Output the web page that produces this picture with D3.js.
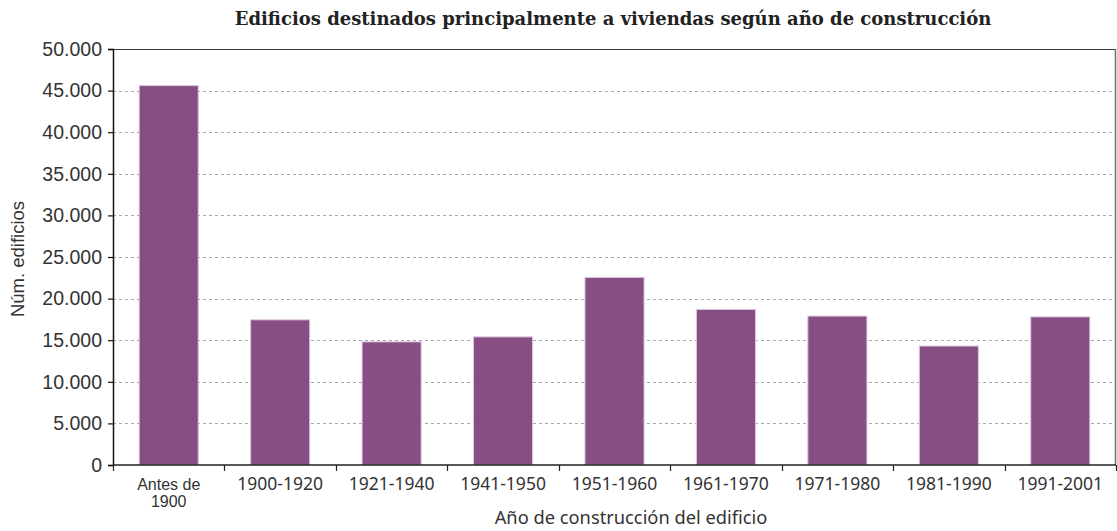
<!DOCTYPE html>
<html>
<head>
<meta charset="utf-8">
<script src="https://cdn.jsdelivr.net/npm/d3@7"></script>
<style>
  html, body { margin: 0; padding: 0; background: #fff; }
  svg { display: block; }
</style>
</head>
<body>
<svg id="chart" width="1117" height="531"></svg>
<script>
// Buildings mainly used as dwellings, by construction period
const categories = ["Antes de\n1900", "1900-1920", "1921-1940", "1941-1950", "1951-1960",
                    "1961-1970", "1971-1980", "1981-1990", "1991-2001"];
const buildings = [45600, 17450, 14800, 15400, 22550, 18700, 17900, 14300, 17800];
const yTicks = [0, 5000, 10000, 15000, 20000, 25000, 30000, 35000, 40000, 45000, 50000];

const titleText = "Edificios destinados principalmente a viviendas según año de construcción";
const yTitle = "Núm. edificios";
const xTitle = "Año de construcción del edificio";

const W = 1117, H = 531;
const m = { top: 49, right: 1, bottom: 66, left: 113 };
const iw = W - m.left - m.right, ih = H - m.top - m.bottom;

const svg = d3.select("#chart");
const g = svg.append("g").attr("transform", `translate(${m.left},${m.top})`);

const x = d3.scaleBand().domain(categories).range([0, iw]).paddingInner(0.47).paddingOuter(0.235);
const y = d3.scaleLinear().domain([0, 50000]).range([ih, 0]);
const fmt = v => d3.format(",")(v).replace(/,/g, ".");

// dashed gridlines
g.append("g").selectAll("line").data(yTicks.filter(t => t > 0 && t < 50000)).join("line")
  .attr("x1", 0).attr("x2", iw)
  .attr("y1", d => Math.round(y(d)) + 0.5).attr("y2", d => Math.round(y(d)) + 0.5)
  .attr("stroke", "#a8a8a8").attr("stroke-width", 1).attr("stroke-dasharray", "3,3");

// frame top and right
g.append("line").attr("x1", 0).attr("x2", iw).attr("y1", 0.5).attr("y2", 0.5)
  .attr("stroke", "#3a3a3a").attr("stroke-width", 1.2);
g.append("line").attr("x1", iw - 0.5).attr("x2", iw - 0.5).attr("y1", 0).attr("y2", ih)
  .attr("stroke", "#707070").attr("stroke-width", 1.5);

// bars
g.append("g").selectAll("rect").data(categories).join("rect")
  .attr("x", d => x(d))
  .attr("y", (d, i) => y(buildings[i]))
  .attr("width", x.bandwidth())
  .attr("height", (d, i) => ih - y(buildings[i]))
  .attr("fill", "#864e83")
  .attr("stroke", "#dcc6dc").attr("stroke-width", 1);

// y axis
const yAxis = g.append("g")
  .call(d3.axisLeft(y).tickValues(yTicks).tickFormat(fmt).tickSize(5).tickPadding(6));
yAxis.select(".domain").attr("stroke", "#111").attr("stroke-width", 1.5);
yAxis.selectAll(".tick line").attr("stroke", "#111").attr("stroke-width", 1.2);
yAxis.selectAll("text").attr("font-family", "'Liberation Sans', Arial, sans-serif")
  .attr("font-size", 19.5).attr("fill", "#333");

// x axis: ticks at category boundaries
const xAxisG = g.append("g").attr("transform", `translate(0,${ih})`);
xAxisG.append("line").attr("x1", 0).attr("x2", iw).attr("y1", 0).attr("y2", 0)
  .attr("stroke", "#222").attr("stroke-width", 1.5);
xAxisG.selectAll("line.tk").data(d3.range(categories.length + 1)).join("line").attr("class", "tk")
  .attr("x1", i => Math.round(i * iw / categories.length) + 0.5)
  .attr("x2", i => Math.round(i * iw / categories.length) + 0.5)
  .attr("y1", 0).attr("y2", 6).attr("stroke", "#222").attr("stroke-width", 1.2);

// category labels; two-line labels get one text per line
const labelLines = [];
categories.forEach(c => {
  const parts = c.split("\n");
  parts.forEach((p, i) => labelLines.push({ cat: c, text: p, row: i, multi: parts.length > 1 }));
});
xAxisG.selectAll("text.lbl").data(labelLines).join("text").attr("class", "lbl")
  .attr("x", d => x(d.cat) + x.bandwidth() / 2)
  .attr("y", d => 25 + d.row * 17)
  .attr("text-anchor", "middle")
  .attr("font-family", d => d.multi ? "'Liberation Sans', Arial, sans-serif" : "'Noto Sans', 'DejaVu Sans', sans-serif")
  .attr("font-size", d => d.multi ? 16 : 17.5)
  .attr("fill", "#333")
  .text(d => d.text);

// titles
svg.append("text").attr("x", 613).attr("y", 25).attr("text-anchor", "middle")
  .attr("font-family", "'DejaVu Serif', serif").attr("font-weight", "bold")
  .attr("font-size", 18).attr("fill", "#222").text(titleText);

svg.append("text").attr("transform", `translate(24,259) rotate(-90)`)
  .attr("text-anchor", "middle")
  .attr("font-family", "'Liberation Sans', Arial, sans-serif")
  .attr("font-size", 18.5).attr("fill", "#333").text(yTitle);

svg.append("text").attr("x", 631).attr("y", 524).attr("text-anchor", "middle")
  .attr("font-family", "'Noto Sans', 'DejaVu Sans', sans-serif")
  .attr("font-size", 18.3).attr("fill", "#333").text(xTitle);
</script>
</body>
</html>
